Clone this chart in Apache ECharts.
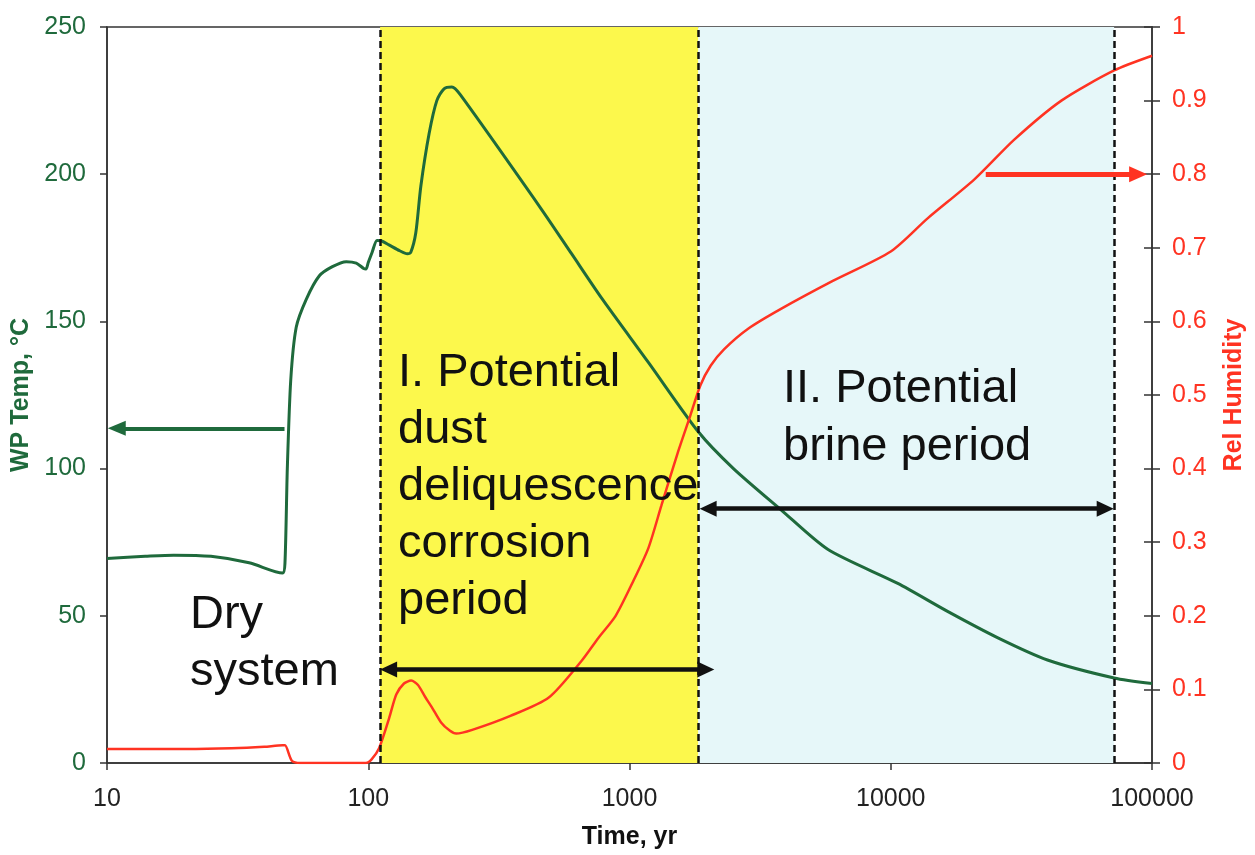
<!DOCTYPE html>
<html>
<head>
<meta charset="utf-8">
<script src="https://cdn.jsdelivr.net/npm/echarts@6/dist/echarts.min.js"></script>
<style>
html,body{margin:0;padding:0;background:#fff;}
#chart{width:1255px;height:855px;}
</style>
</head>
<body>
<div id="chart"></div>
<script>
// ---- data ----
const xTicks = [10, 100, 1000, 10000, 100000];
const tempTime = [10,14,18,25,35,47,48,49,50.5,53,57.9,65,72.9,82.4,90,96,98,100,103.5,108,112,120,132,141,145.5,152,159,171,183,195,209,225,461,600,781,1183,1834,2500,3802,5754,10640,16500,25600,39800,71600,100000];
const tempValue = [69.5,70.2,70.6,70.2,68,64.5,68,100,130,148,157.5,165.5,168.6,170.3,169.8,168,167.8,170,173.5,177.5,177.4,176,174,173,173.5,180,196,213.8,225,229,229.6,227,188,173,158,136,112.5,100,86,72.5,61,51.5,42.6,35,28.9,27];
const rhTime = [10,20,30,40,47,48,51,55,98,103,110,120,128,137,146,155,165,175,190,205,217,250,350,491,656,760,885,1030,1181,1325,1538,1709,1867,2047,2300,2845,3800,6000,10000,13840,20900,29700,45000,71600,100000];
const rhValue = [0.019,0.019,0.02,0.022,0.024,0.024,0.003,0,0,0.005,0.02,0.06,0.093,0.108,0.112,0.106,0.09,0.076,0.055,0.044,0.04,0.045,0.064,0.089,0.139,0.17,0.2,0.246,0.292,0.35,0.424,0.472,0.513,0.54,0.562,0.59,0.617,0.655,0.695,0.74,0.793,0.847,0.9,0.941,0.961];
const periodBounds = [111, 1834, 71600];
const tempTicks = [0, 50, 100, 150, 200, 250];
const rhTicks = [0,0.1,0.2,0.3,0.4,0.5,0.6,0.7,0.8,0.9,1];
// annotation arrows [startTime, endTime, level]
const tempArrow = [47.8, 10.9, 113.7];
const rhArrow = [23100, 88500, 0.8];
const dustArrow = [119.7, 1959, 31.8];
const brineArrow = [2000, 66200, 86.4];

const tempData = tempTime.map((t,i)=>[t, tempValue[i]]);
const rhData = rhTime.map((t,i)=>[t, rhValue[i]]);

const FONT = '"Liberation Sans", Arial, sans-serif';
const GREEN = '#1f6a3c';
const RED = '#ff3322';

function arrowLine(a, color, width, both, size){
  return [
    {coord:[a[0], a[2]], symbol: both ? 'triangle' : 'none', symbolSize: size},
    {coord:[a[1], a[2]], symbol:'triangle', symbolSize: size, lineStyle:{color:color, width:width, type:'solid'}}
  ];
}

const chart = echarts.init(document.getElementById('chart'), null, {renderer:'canvas'});
chart.setOption({
  animation:false,
  backgroundColor:'#fff',
  grid:{left:107, right:98, top:27, bottom:89, show:true, borderColor:'#333', borderWidth:1.5, backgroundColor:'transparent'},
  xAxis:{
    type:'log', logBase:10, min:xTicks[0], max:xTicks[xTicks.length-1], interval:1,
    name:'Time, yr', nameLocation:'middle', nameGap:62,
    nameTextStyle:{fontFamily:FONT, fontSize:25, fontWeight:'bold', color:'#111'},
    axisLine:{lineStyle:{color:'#333', width:1.5}},
    axisTick:{show:true, length:7, lineStyle:{color:'#333', width:1.5}},
    minorTick:{show:false},
    splitLine:{show:false},
    axisLabel:{fontFamily:FONT, fontSize:25, color:'#222', margin:24, formatter:v=>String(Math.round(v)), showMinLabel:true, showMaxLabel:true}
  },
  yAxis:[
    {type:'value', min:tempTicks[0], max:tempTicks[tempTicks.length-1], interval:50, position:'left',
     name:'WP Temp, °C', nameLocation:'middle', nameRotate:90, nameGap:70,
     nameTextStyle:{fontFamily:FONT, fontSize:25, fontWeight:'bold', color:GREEN},
     axisLine:{show:true, lineStyle:{color:'#333', width:1.5}},
     axisTick:{show:true, length:7, lineStyle:{color:'#333', width:1.5}},
     splitLine:{show:false},
     axisLabel:{fontFamily:FONT, fontSize:25, color:GREEN, margin:21}},
    {type:'value', min:rhTicks[0], max:rhTicks[rhTicks.length-1], interval:0.1, position:'right',
     name:'Rel Humidity', nameLocation:'middle', nameRotate:90, nameGap:70,
     nameTextStyle:{fontFamily:FONT, fontSize:25, fontWeight:'bold', color:RED},
     axisLine:{show:true, lineStyle:{color:'#333', width:1.5}},
     axisTick:{show:true, length:8, lineStyle:{color:'#333', width:1.5}},
     splitLine:{show:false},
     axisLabel:{fontFamily:FONT, fontSize:25, color:RED, margin:20}},
    {type:'value', min:rhTicks[0], max:rhTicks[rhTicks.length-1], interval:0.1, position:'right',
     axisLine:{show:false}, axisLabel:{show:false}, splitLine:{show:false},
     axisTick:{show:true, inside:true, length:8, lineStyle:{color:'#333', width:1.5}}}
  ],
  series:[
    {type:'line', name:'bands', yAxisIndex:0, data:[], z:1, silent:true,
     markArea:{silent:true, z:1, data:[
       [{xAxis:periodBounds[0], itemStyle:{color:'#fcf84c'}},{xAxis:periodBounds[1]}],
       [{xAxis:periodBounds[1], itemStyle:{color:'#e6f7f9'}},{xAxis:periodBounds[2]}]
     ]}},
    {type:'line', name:'WP Temp', yAxisIndex:0, data:tempData, showSymbol:false, smooth:0.25, z:3,
     lineStyle:{color:GREEN, width:3}, itemStyle:{color:GREEN},
     markLine:{silent:true, z:5, label:{show:false}, symbol:'none',
       lineStyle:{color:'#111', width:2.5, type:[7,4]},
       data:[
         [{coord:[periodBounds[0], tempTicks[0]]},{coord:[periodBounds[0], tempTicks[tempTicks.length-1]]}],
         [{coord:[periodBounds[1], tempTicks[0]]},{coord:[periodBounds[1], tempTicks[tempTicks.length-1]]}],
         [{coord:[periodBounds[2], tempTicks[0]]},{coord:[periodBounds[2], tempTicks[tempTicks.length-1]]}],
         arrowLine(tempArrow, GREEN, 4, false, [15,18]),
         arrowLine(dustArrow, '#111', 4.5, true, [16,17]),
         arrowLine(brineArrow, '#111', 4.5, true, [16,17])
       ]}},
    {type:'line', name:'Rel Humidity', yAxisIndex:1, data:rhData, showSymbol:false, smooth:0.25, z:4,
     lineStyle:{color:RED, width:2.5}, itemStyle:{color:RED},
     markLine:{silent:true, z:5, label:{show:false}, symbol:'none',
       data:[arrowLine(rhArrow, RED, 5, false, [16,18])]}}
  ],
  graphic:[
    {type:'text', left:190, top:587, z:10, style:{text:'Dry\nsystem', font:'47px '+FONT, fill:'#111', lineHeight:57}},
    {type:'text', left:398, top:345, z:10, style:{text:'I. Potential\ndust\ndeliquescence\ncorrosion\nperiod', font:'47px '+FONT, fill:'#111', lineHeight:57}},
    {type:'text', left:783, top:360, z:10, style:{text:'II. Potential\nbrine period', font:'47px '+FONT, fill:'#111', lineHeight:58}}
  ]
});
</script>
</body>
</html>
